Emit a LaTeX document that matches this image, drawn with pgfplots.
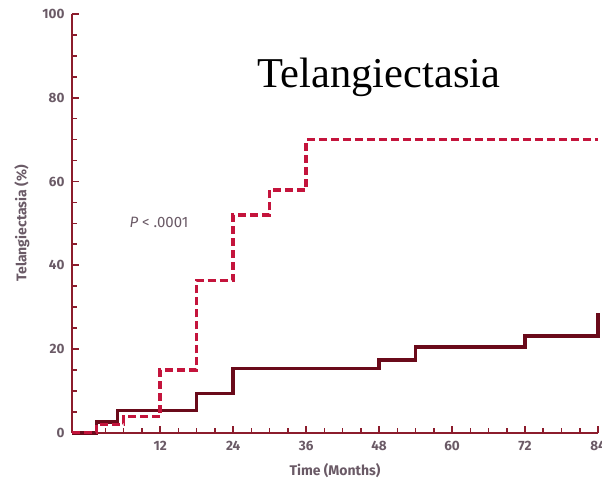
\documentclass[border=0pt]{standalone}
\usepackage{pgfplots}
\pgfplotsset{compat=1.18}
\usepackage{fontspec}
\setmainfont{Liberation Serif}
\setsansfont{Fira Sans}
\definecolor{axred}{HTML}{8C1C2C}
\definecolor{solidc}{HTML}{6A0A1A}
\definecolor{dashc}{HTML}{C4143C}
\definecolor{txtg}{HTML}{6A5A66}
\begin{document}
\begin{tikzpicture}
\path[use as bounding box] (-72pt,-57.3pt) rectangle (530pt,432.7pt);
\begin{axis}[
  at={(0,0)}, anchor=south west,
  scale only axis, width=526pt, height=418.7pt,
  xmin=-2.5, xmax=84, ymin=0, ymax=100,
  axis x line=bottom, axis y line=left,
  axis line style={-, color=axred, line width=2.4pt},
  xtick={12,24,36,48,60,72,84},
  ytick={0,20,40,60,80,100},
  minor xtick={3,6,9,15,18,21,27,30,33,39,42,45,51,54,57,63,66,69,75,78,81},
  minor ytick={5,10,15,25,30,35,45,50,55,65,70,75,85,90,95},
  tick align=inside,
  major tick length=7pt, minor tick length=5pt,
  tick style={color=axred, line width=1.6pt},
  ticklabel style={font=\sffamily\bfseries\fontsize{13.5}{15}\selectfont, text=txtg},
  xticklabel style={yshift=-5pt},
  yticklabel style={xshift=-4pt},
  /pgf/number format/assume math mode=true,
  xlabel={Time (Months)},
  ylabel={Telangiectasia (\%)},
  label style={font=\sffamily\bfseries\fontsize{14}{16}\selectfont, text=txtg},
  xlabel style={yshift=-6pt},
  ylabel style={yshift=6pt},
  clip=false,
]
\addplot[const plot, color=solidc, line width=3.6pt] coordinates {
  (-2.5,0) (1.5,2.6) (5,5.3) (18,9.4) (24,15.3) (48,17.4) (54,20.4) (72,23.1) (84,23.1) (84,28.6)
};
\addplot[const plot, color=dashc, line width=3.4pt, dash pattern=on 8pt off 4pt] coordinates {
  (-2.5,0) (1.5,2) (6,3.8) (12,15) (18,36.4) (24,52) (30,58) (36,70) (84,70)
};
\node[font=\fontsize{42.5}{48}\selectfont] at (axis cs:48,84.8) {Telangiectasia};
\node[font=\sffamily\fontsize{15}{17}\selectfont, text=txtg] at (axis cs:11.8,50.2) {\textit{P} < .0001};
\end{axis}
\end{tikzpicture}
\end{document}
